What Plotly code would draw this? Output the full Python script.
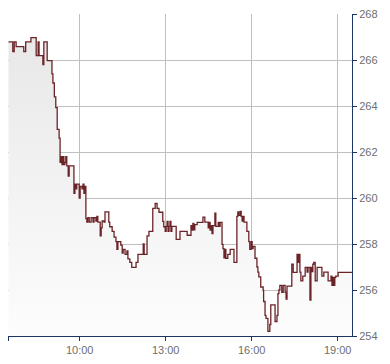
import plotly.graph_objects as go

DAY = "2024-01-02 "

TIMES = [
    "07:31", "07:40", "07:43", "07:47", "08:03", "08:07", "08:18", "08:29", "08:33", "08:35",
    "08:43", "08:45", "08:52", "09:02", "09:04", "09:07", "09:10", "09:13", "09:17", "09:19",
    "09:21", "09:23", "09:25", "09:27", "09:29", "09:31", "09:33", "09:36", "09:38", "09:48",
    "09:50", "09:52", "09:54", "09:59", "10:01", "10:05", "10:07", "10:09", "10:11", "10:13",
    "10:15", "10:17", "10:20", "10:24", "10:28", "10:30", "10:34", "10:36", "10:38", "10:43",
    "10:45", "10:47", "10:51", "10:53", "11:01", "11:03", "11:08", "11:12", "11:16", "11:18",
    "11:20", "11:26", "11:29", "11:31", "11:35", "11:39", "11:41", "11:45", "11:49", "11:58",
    "12:02", "12:13", "12:15", "12:21", "12:25", "12:33", "12:38", "12:42", "12:46", "12:54",
    "12:56", "12:59", "13:01", "13:03", "13:05", "13:07", "13:09", "13:11", "13:13", "13:22",
    "13:30", "13:45", "13:53", "13:55", "13:57", "13:59", "14:01", "14:06", "14:18", "14:22",
    "14:29", "14:31", "14:33", "14:35", "14:37", "14:39", "14:43", "14:45", "14:50", "14:52",
    "14:54", "14:58", "15:00", "15:02", "15:04", "15:06", "15:10", "15:15", "15:23", "15:29",
    "15:31", "15:33", "15:36", "15:38", "15:40", "15:42", "15:44", "15:50", "15:54", "15:56",
    "15:59", "16:01", "16:03", "16:07", "16:11", "16:13", "16:15", "16:19", "16:24", "16:25",
    "16:28", "16:30", "16:34", "16:38", "16:40", "16:49", "16:53", "16:55", "16:57", "16:59",
    "17:03", "17:06", "17:10", "17:12", "17:14", "17:24", "17:27", "17:35", "17:37", "17:39",
    "17:41", "17:43", "17:47", "17:52", "17:56", "17:58", "18:02", "18:04", "18:06", "18:08",
    "18:10", "18:13", "18:17", "18:27", "18:31", "18:40", "18:46", "18:48", "18:50", "18:52",
    "18:54", "18:56", "19:01", "19:30",
]

PRICES = [
    266.79, 266.37, 266.79, 266.58, 266.37, 266.79, 266.97, 266.19, 266.79, 266.19,
    265.80, 266.79, 265.97, 265.40, 265.00, 264.40, 263.93, 262.98, 262.60, 261.55,
    261.80, 261.45, 261.80, 261.45, 261.55, 261.80, 261.40, 260.95, 261.40, 260.20,
    260.60, 260.40, 260.60, 260.00, 260.50, 260.40, 260.60, 260.20, 260.50, 259.10,
    258.95, 259.15, 258.95, 259.15, 258.95, 259.15, 259.00, 259.20, 258.95, 258.35,
    258.70, 259.00, 258.95, 259.40, 258.95, 258.75, 258.55, 258.30, 258.10, 257.77,
    258.10, 257.95, 257.60, 257.77, 257.55, 257.70, 257.35, 257.20, 256.98, 257.20,
    257.55, 258.00, 257.55, 258.35, 258.55, 259.55, 259.76, 259.55, 259.38, 258.98,
    258.75, 258.55, 258.77, 258.98, 258.55, 258.77, 258.98, 258.55, 258.77, 258.20,
    258.55, 258.38, 258.80, 258.60, 258.90, 258.62, 258.84, 258.94, 259.17, 258.95,
    258.70, 258.94, 258.60, 258.80, 258.45, 258.80, 259.34, 258.77, 258.94, 258.77,
    258.94, 257.98, 257.80, 257.40, 257.77, 257.38, 257.55, 257.77, 257.20, 259.20,
    259.40, 259.25, 259.42, 259.20, 259.00, 259.20, 258.95, 258.55, 258.10, 257.77,
    258.10, 257.80, 257.90, 257.38, 257.00, 256.78, 256.57, 256.13, 255.98, 255.50,
    254.90, 254.77, 254.20, 254.50, 255.35, 254.63, 254.90, 255.84, 256.00, 256.20,
    255.90, 256.20, 255.90, 255.60, 256.17, 257.12, 256.77, 257.55, 257.20, 257.55,
    256.78, 256.40, 256.60, 256.98, 256.78, 256.98, 255.56, 256.98, 256.80, 257.12,
    257.20, 256.40, 256.98, 256.60, 256.78, 256.40, 256.60, 256.20, 256.55, 256.20,
    256.55, 256.60, 256.77, 256.77,
]

X_TICKS = ["07:30", "10:00", "13:00", "16:00", "19:00"]
X_TICK_TEXT = ["", "10:00", "13:00", "16:00", "19:00"]
Y_TICKS = [254, 256, 258, 260, 262, 264, 266, 268]
X_RANGE = ["07:30", "19:30"]
Y_RANGE = [254, 268]

LINE_COLOR = "#6b2328"
GRID = "#bfbfbf"
AXIS = "#1c3566"
LABEL = "#6e6e6e"

fig = go.Figure()
fig.add_trace(go.Scatter(
    x=[DAY + t for t in TIMES],
    y=PRICES,
    mode="lines",
    line=dict(color=LINE_COLOR, width=1.3, shape="hv"),
    fill="tozeroy",
    fillgradient=dict(type="vertical", start=254, stop=267,
                      colorscale=[[0, "#fdfdfd"], [1, "#e8e8e8"]]),
    hoverinfo="skip",
    showlegend=False,
))

fig.update_layout(
    width=390, height=364,
    margin=dict(l=8, r=38, t=11, b=26),
    paper_bgcolor="white",
    plot_bgcolor="white",
    font=dict(family="Liberation Sans, Arial, sans-serif", size=11, color=LABEL),
    xaxis=dict(
        type="date",
        range=[DAY + X_RANGE[0], DAY + X_RANGE[1]],
        tickvals=[DAY + t for t in X_TICKS],
        ticktext=X_TICK_TEXT,
        showgrid=True, gridcolor=GRID, gridwidth=1,
        showline=True, linecolor=AXIS, linewidth=1,
        ticks="outside", ticklen=4, tickcolor=AXIS,
        zeroline=False,
        fixedrange=True,
    ),
    yaxis=dict(
        side="right",
        range=Y_RANGE,
        tickvals=Y_TICKS,
        showgrid=True, gridcolor=GRID, gridwidth=1,
        showline=True, linecolor=AXIS, linewidth=1,
        ticks="outside", ticklen=4, tickcolor=AXIS,
        zeroline=False,
        fixedrange=True,
    ),
)

fig.write_html("out.html")
